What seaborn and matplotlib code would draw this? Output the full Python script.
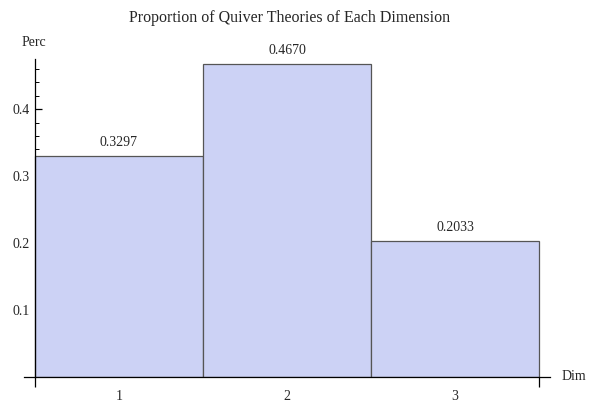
import matplotlib
matplotlib.use("Agg")
import matplotlib.pyplot as plt
import seaborn as sns
import pandas as pd
import numpy as np
from matplotlib.ticker import MultipleLocator, FixedLocator

dims = [1, 2, 3]
percs = [0.3297, 0.4670, 0.2033]
title = "Proportion of Quiver Theories of Each Dimension"

sns.set_style("white")
plt.rcParams['font.family'] = ['Liberation Serif', 'DejaVu Serif']

df = pd.DataFrame({"Dim": dims, "Perc": percs})

fig = plt.figure(figsize=(5.98, 4.03), dpi=100)
ax = fig.add_axes([24/598, 26/403, 526/598, 318/403])

sns.barplot(data=df, x="Dim", y="Perc", native_scale=True, width=1.0,
            color="#CCD2F5", saturation=1, edgecolor="#555555", linewidth=0.9, ax=ax)

for c in ax.containers:
    ax.bar_label(c, labels=[f"{v:.4f}" for v in percs], padding=5, fontsize=10)

ax.set_xlim(0.435, 3.565)
ax.set_ylim(0, 0.475)

for s in ["top", "right"]:
    ax.spines[s].set_visible(False)
ax.spines["left"].set_position(("data", 0.5))
ax.spines["bottom"].set_position(("data", 0))
for s in ["left", "bottom"]:
    ax.spines[s].set_color("black")
    ax.spines[s].set_linewidth(0.9)

ax.xaxis.set_major_locator(FixedLocator(dims))
ax.set_xticklabels([str(d) for d in dims])
ax.xaxis.set_minor_locator(FixedLocator([0.5, 3.5]))
ax.tick_params(axis="x", which="major", length=0, pad=9, labelsize=10)
ax.tick_params(axis="x", which="minor", length=7, width=0.9, direction="out", color="black", bottom=True)

ax.yaxis.set_major_locator(FixedLocator([0.1, 0.2, 0.3, 0.4]))
ax.yaxis.set_minor_locator(FixedLocator([0.02, 0.04, 0.06, 0.08, 0.12, 0.14, 0.16, 0.18,
                                          0.22, 0.24, 0.26, 0.28, 0.32, 0.34, 0.36, 0.38,
                                          0.42, 0.44, 0.46]))
ax.set_yticklabels(["0.1", "0.2", "0.3", "0.4"])
ax.tick_params(axis="y", which="major", length=5, width=0.9, direction="in", color="black",
               left=True, labelsize=10, pad=4)
ax.tick_params(axis="y", which="minor", length=3, width=0.7, direction="in", color="black", left=True)

ax.set_xlabel("")
ax.set_ylabel("")
fig.text(34/598, 1 - 43/403, "Perc", ha="center", va="center", fontsize=10)
fig.text(574/598, 1 - 377/403, "Dim", ha="center", va="center", fontsize=10)
fig.text(290/598, 1 - 18/403, title, ha="center", va="center", fontsize=11.5)

fig.savefig("out.png", dpi=100)
